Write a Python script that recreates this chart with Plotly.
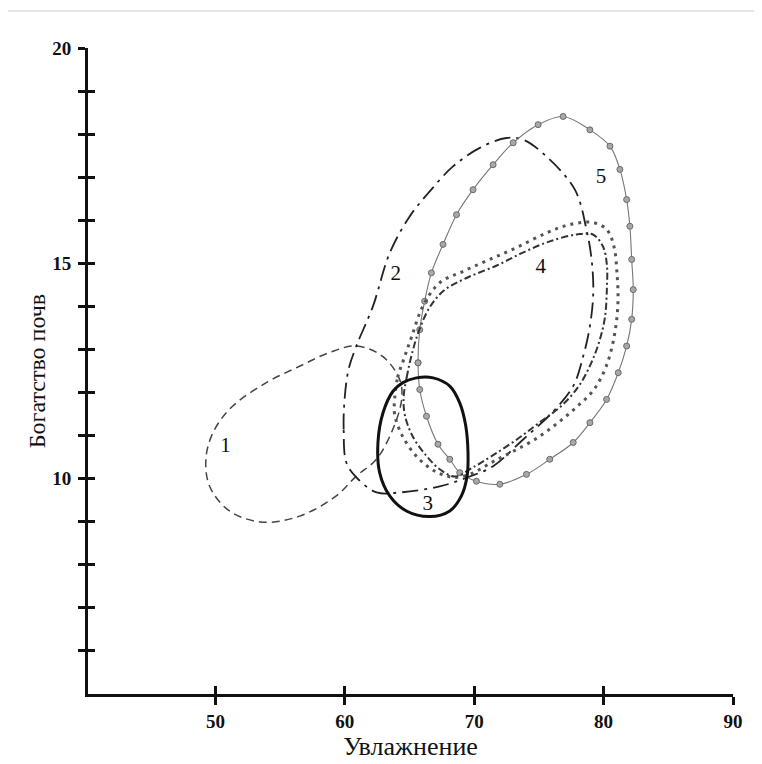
import plotly.graph_objects as go

# ---- data (x = Увлажнение, y = Богатство почв) ----
zone1_x = [49.28, 49.93, 51.32, 53.93, 56.50, 58.82, 60.89, 62.92, 64.24, 64.39, 63.70, 62.44, 60.89, 59.34, 56.50, 53.64, 51.09, 49.54, 49.28]
zone1_y = [10.52, 11.14, 11.68, 12.23, 12.61, 12.93, 13.08, 12.84, 12.30, 11.84, 11.14, 10.45, 10.06, 9.60, 9.13, 8.99, 9.25, 9.83, 10.52]

zone2_x = [60.12, 59.91, 59.98, 60.29, 60.89, 62.17, 63.47, 65.01, 66.56, 68.36, 70.43, 72.49, 73.78, 75.59, 77.78, 78.68, 79.07, 79.20, 78.94, 78.42, 77.65, 76.10, 73.78, 71.46, 69.66, 67.33, 64.24, 62.46, 60.89, 60.12]
zone2_y = [10.37, 11.14, 11.84, 12.54, 13.08, 14.00, 15.24, 16.09, 16.67, 17.25, 17.68, 17.91, 17.87, 17.48, 16.71, 15.78, 15.09, 14.32, 13.54, 12.84, 12.15, 11.56, 10.91, 10.29, 10.05, 9.82, 9.68, 9.68, 10.03, 10.37]

zone3_x = [63.72, 62.95, 62.56, 62.69, 63.47, 64.76, 66.56, 68.11, 69.01, 69.45, 69.52, 69.35, 68.88, 68.11, 66.82, 65.53, 64.49, 63.72]
zone3_y = [12.03, 11.53, 10.84, 10.14, 9.60, 9.25, 9.12, 9.25, 9.60, 10.06, 10.60, 11.22, 11.76, 12.15, 12.34, 12.34, 12.23, 12.03]

zone4_outer_x = [63.85, 64.08, 64.55, 65.17, 66.02, 67.33, 69.11, 71.20, 73.29, 75.61, 77.39, 79.17, 80.25, 80.80, 81.03, 81.11, 80.87, 80.25, 79.25, 77.86, 76.31, 74.68, 72.98, 71.36, 69.81, 68.49, 67.10, 65.63, 64.47, 63.85, 63.85]
zone4_outer_y = [11.84, 12.35, 12.77, 13.30, 14.00, 14.55, 14.81, 15.09, 15.37, 15.71, 15.90, 15.95, 15.78, 15.39, 14.79, 14.11, 13.39, 12.65, 12.07, 11.65, 11.26, 10.91, 10.63, 10.38, 10.12, 10.03, 10.15, 10.49, 10.98, 11.49, 11.84]

zone4_inner_x = [64.55, 64.78, 65.17, 65.71, 66.56, 67.70, 69.40, 71.74, 73.76, 75.84, 77.93, 79.17, 79.95, 80.25, 80.25, 80.10, 79.71, 79.09, 78.17, 76.85, 75.07, 73.29, 71.43, 69.89, 68.49, 67.33, 66.33, 65.25, 64.63, 64.55]
zone4_inner_y = [11.91, 12.35, 12.88, 13.42, 13.98, 14.38, 14.66, 14.95, 15.25, 15.51, 15.67, 15.67, 15.39, 14.97, 14.39, 13.74, 13.23, 12.72, 12.19, 11.72, 11.31, 10.91, 10.54, 10.26, 10.05, 10.22, 10.52, 10.98, 11.49, 11.91]

zone5_x = [65.66, 65.79, 66.17, 66.69, 67.59, 68.63, 69.91, 71.46, 73.01, 74.94, 76.87, 78.94, 80.49, 81.26, 81.78, 82.03, 82.17, 82.29, 82.17, 81.78, 81.13, 80.23, 78.94, 77.65, 75.84, 74.04, 71.98, 70.17, 68.88, 68.11, 67.20, 66.31, 65.79, 65.66]
zone5_y = [12.69, 13.46, 14.12, 14.78, 15.44, 16.13, 16.71, 17.29, 17.80, 18.22, 18.41, 18.10, 17.72, 17.18, 16.48, 15.86, 15.09, 14.39, 13.70, 13.08, 12.46, 11.84, 11.30, 10.84, 10.45, 10.10, 9.87, 9.94, 10.14, 10.45, 10.80, 11.45, 12.07, 12.69]

zone_labels = ["1", "2", "3", "4", "5"]
zone_label_x = [50.78, 63.93, 66.41, 75.15, 79.79]
zone_label_y = [10.75, 14.74, 9.40, 14.90, 16.99]

x_tick_vals = [50, 60, 70, 80, 90]
y_tick_vals = [6, 7, 8, 9, 10, 11, 12, 13, 14, 15, 16, 17, 18, 19, 20]
y_tick_text = ["", "", "", "", "10", "", "", "", "", "15", "", "", "", "", "20"]

x_title = "Увлажнение"
y_title = "Богатство почв"

X_RANGE = [40.15, 90.0]
Y_RANGE = [5.0, 20.0]
SERIF = "Liberation Serif, Times New Roman, serif"

fig = go.Figure()

fig.add_trace(go.Scatter(x=zone1_x, y=zone1_y, mode="lines", showlegend=False,
                         line=dict(color="#444444", width=1.5, dash="8px,5px", shape="spline")))
fig.add_trace(go.Scatter(x=zone2_x, y=zone2_y, mode="lines", showlegend=False,
                         line=dict(color="#222222", width=1.8, dash="16px,6px,3px,6px", shape="spline")))
fig.add_trace(go.Scatter(x=zone5_x, y=zone5_y, mode="lines+markers", showlegend=False,
                         line=dict(color="#777777", width=1.1, shape="spline"),
                         marker=dict(size=6, color="#a8a8a8", line=dict(color="#6a6a6a", width=1))))
fig.add_trace(go.Scatter(x=zone4_outer_x, y=zone4_outer_y, mode="lines", showlegend=False,
                         line=dict(color="#555555", width=3, dash="3px,5px", shape="spline")))
fig.add_trace(go.Scatter(x=zone4_inner_x, y=zone4_inner_y, mode="lines", showlegend=False,
                         line=dict(color="#333333", width=2, dash="7px,3px,2px,3px", shape="spline")))
fig.add_trace(go.Scatter(x=zone3_x, y=zone3_y, mode="lines", showlegend=False,
                         line=dict(color="#111111", width=3, shape="spline")))
fig.add_trace(go.Scatter(x=zone_label_x, y=zone_label_y, mode="text", text=zone_labels, showlegend=False,
                         textfont=dict(family=SERIF, size=21, color="#111111")))
# helper trace so the overlay axes (inner half of crossing ticks) are drawn
fig.add_trace(go.Scatter(x=[None], y=[None], xaxis="x2", yaxis="y2", showlegend=False, hoverinfo="skip"))

common = dict(showgrid=False, zeroline=False)
fig.update_layout(
    width=762, height=764,
    margin=dict(l=80, r=37, t=40, b=78),
    paper_bgcolor="white", plot_bgcolor="white",
    font=dict(family=SERIF, color="#111111"),
    xaxis=dict(range=X_RANGE, showline=True, linewidth=3, linecolor="#111111",
               tickmode="array", tickvals=x_tick_vals, ticks="outside", ticklen=8,
               tickwidth=2.5, tickcolor="#111111", ticklabelstandoff=0,
               tickfont=dict(family=SERIF, size=19, weight="bold", color="#111111"),
               title=dict(text=x_title, font=dict(family=SERIF, size=26, color="#111111"), standoff=0),
               **common),
    yaxis=dict(range=Y_RANGE, showline=True, linewidth=3, linecolor="#111111",
               tickmode="array", tickvals=y_tick_vals, ticktext=y_tick_text, ticks="outside",
               ticklen=7, tickwidth=2.5, tickcolor="#111111", ticklabelstandoff=3,
               tickfont=dict(family=SERIF, size=19, weight="bold", color="#111111"),
               title=dict(text=y_title, font=dict(family=SERIF, size=24, color="#111111"), standoff=0),
               **common),
    xaxis2=dict(range=X_RANGE, overlaying="x", anchor="y2", side="bottom", showline=False,
                tickmode="array", tickvals=x_tick_vals, ticks="inside", ticklen=8, tickwidth=2.5,
                tickcolor="#111111", showticklabels=False, **common),
    yaxis2=dict(range=Y_RANGE, overlaying="y", anchor="x2", side="left", showline=False,
                tickmode="array", tickvals=y_tick_vals, ticks="inside", ticklen=7, tickwidth=2.5,
                tickcolor="#111111", showticklabels=False, **common),
    shapes=[dict(type="path", xref="paper", yref="paper",
                 path="M 1.2,1.0573 L -0.1287,1.0573 L -0.1287,-0.2",
                 line=dict(color="#cccccc", width=1))],
)

fig.write_html("out.html")
